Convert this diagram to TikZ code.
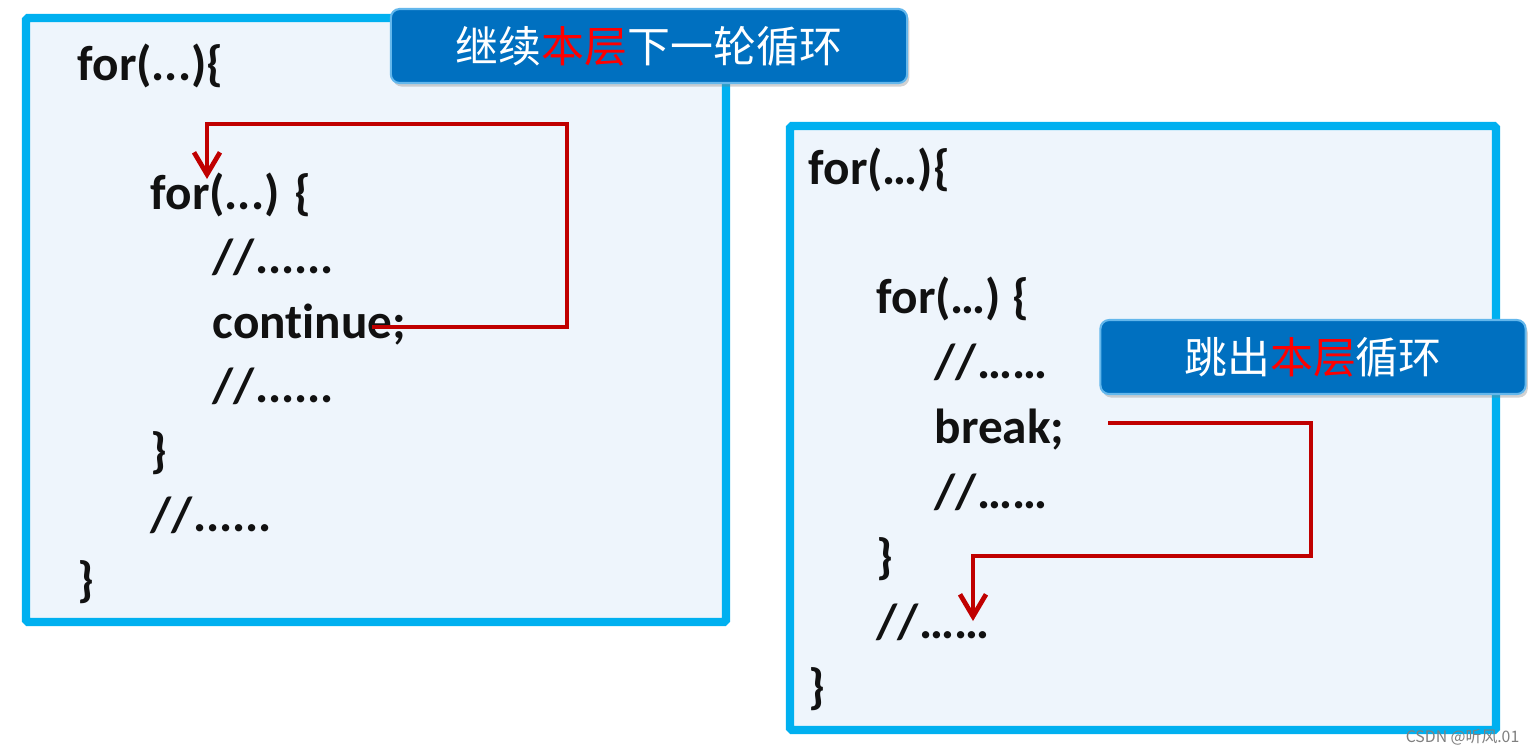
\documentclass[tikz,border=0pt]{standalone}
\usepackage{fontspec}
\setmainfont{Carlito}[Ligatures=NoCommon]
\newfontfamily\cjk{Noto Sans CJK SC}
\usetikzlibrary{shadows,arrows.meta}
\definecolor{boxblue}{HTML}{00B0F0}
\definecolor{boxfill}{HTML}{EEF5FC}
\definecolor{labfill}{HTML}{0070C0}
\definecolor{labedge}{HTML}{63B7EC}
\definecolor{arrowred}{HTML}{C00000}
\definecolor{codeink}{HTML}{111111}
\definecolor{hlred}{HTML}{FF0000}
\tikzset{
  codebox/.style={draw=boxblue, fill=boxfill, line width=2.3pt, rounded corners=0.5pt},
  codeline/.style={anchor=base west, inner sep=0pt, text=codeink, font=\fontsize{14}{16}\selectfont\bfseries},
  tag/.style={draw=labedge, fill=labfill, line width=0.6pt, rounded corners=2.5pt,
    minimum height=0.74cm, text=white, font=\cjk\fontsize{12.2}{14}\selectfont,
    drop shadow={shadow xshift=0.6pt, shadow yshift=-1pt, opacity=0.35, fill=gray}},
  flow/.style={draw=arrowred, line width=1.35pt, -{Straight Barb[length=0.22cm, width=0.26cm]}},
  wmark/.style={text=gray, font=\cjk\fontsize{4.5}{5}\selectfont, inner sep=0pt}
}
\begin{document}
\begin{tikzpicture}[x=0.01cm, y=-0.01cm]
\useasboundingbox (0,0) rectangle (1536,753);
\fill[white] (0,0) rectangle (1536,753);

% left box
\draw[codebox] (26,18) rectangle (726,622);
\node[codeline] (l1) at (77,80) {for(...)\{};
\node[codeline] (l2) at (150,209) {for(...) \{};
\node[codeline] (l3) at (212,273) {//......};
\node[codeline] (l4) at (212,338) {continue;};
\node[codeline] (l5) at (212,402) {//......};
\node[codeline] (l6) at (150,467) {\}};
\node[codeline] (l7) at (150,531) {//......};
\node[codeline] (l8) at (77,596) {\}};

% right box
\draw[codebox] (790,126) rectangle (1496,730);
\node[codeline] (r1) at (808,184) {for(…)\{};
\node[codeline] (r2) at (876,313) {for(…) \{};
\node[codeline] (r3) at (934,378) {//……};
\node[codeline] (r4) at (934,443) {break;};
\node[codeline] (r5) at (934,508) {//……};
\node[codeline] (r6) at (876,573) {\}};
\node[codeline] (r7) at (876,638) {//……};
\node[codeline] (r8) at (808,703) {\}};

% tags
\node[tag, minimum width=5.16cm] (t1) at (649,46) {继续{\color{hlred}本层}下一轮循环};
\node[tag, minimum width=4.25cm] (t2) at (1313,357) {跳出{\color{hlred}本层}循环};

% continue arrow
\coordinate (cs) at (372,327);
\coordinate (ct) at (207,179);
\draw[flow] (cs) -- (567,327) -- (567,124) -- (ct |- 0,124) -- (ct);

% break arrow
\coordinate (bs) at (1108,423);
\coordinate (bt) at (973,621);
\draw[flow] (bs) -- (1311,423) -- (1311,556) -- (bt |- 0,556) -- (bt);

% watermark
\node[wmark, anchor=east] (wm) at (1520,737) {CSDN @听风.01};
\end{tikzpicture}
\end{document}
